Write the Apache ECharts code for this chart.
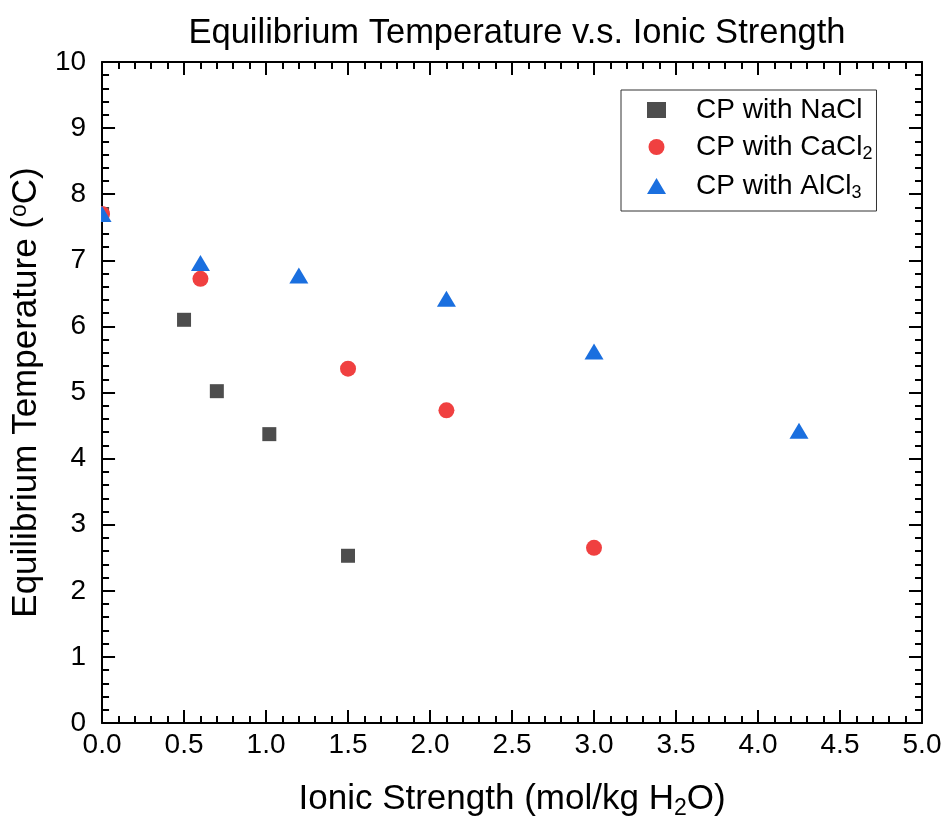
<!DOCTYPE html>
<html>
<head>
<meta charset="utf-8">
<script src="https://cdn.jsdelivr.net/npm/echarts@6/dist/echarts.min.js"></script>
<style>html,body{margin:0;padding:0;background:#fff}#c{width:946px;height:825px}</style>
</head>
<body>
<div id="c"></div>
<script>
const naclX = [0, 0.5, 0.7, 1.02, 1.5];
const naclY = [7.7, 6.1, 5.02, 4.37, 2.53];
const caclX = [0, 0.6, 1.5, 2.1, 3.0];
const caclY = [7.7, 6.72, 5.36, 4.73, 2.65];
const alclX = [0, 0.6, 1.2, 2.1, 3.0, 4.25];
const alclY = [7.7, 6.96, 6.77, 6.42, 5.62, 4.42];
const seriesNames = ['CP with NaCl', 'CP with CaCl2', 'CP with AlCl3'];
const xTicks = ['0.0','0.5','1.0','1.5','2.0','2.5','3.0','3.5','4.0','4.5','5.0'];
const yTicks = ['0','1','2','3','4','5','6','7','8','9','10'];

const FONT = '"Liberation Sans", Arial, sans-serif';
const zip = (xs, ys) => xs.map((x, i) => [x, ys[i]]);

const legendRich = {
  a: {fontSize: 28, fontFamily: FONT, color: '#000'},
  sub: {fontSize: 18, fontFamily: FONT, color: '#000', padding: [14, 0, 0, 0]}
};
const legendFmt = {
  'CP with NaCl': '{a|CP with NaCl}',
  'CP with CaCl2': '{a|CP with CaCl}{sub|2}',
  'CP with AlCl3': '{a|CP with AlCl}{sub|3}'
};

const axisCommon = {
  axisLine: {show: true, onZero: false, lineStyle: {color: '#000', width: 2}},
  axisTick: {show: true, inside: true, length: 13, lineStyle: {color: '#000', width: 2}},
  minorTick: {show: true, splitNumber: 5, length: 7, lineStyle: {color: '#000', width: 2}},
  splitLine: {show: false}
};

const chart = echarts.init(document.getElementById('c'), null, {renderer: 'canvas'});
chart.setOption({
  backgroundColor: '#fff',
  animation: false,
  title: {
    text: 'Equilibrium Temperature v.s. Ionic Strength',
    left: 512, top: 11, textAlign: 'center',
    textStyle: {fontFamily: FONT, fontSize: 34.5, fontWeight: 'normal', color: '#000'}
  },
  grid: {left: 100, right: 24, top: 62, bottom: 97},
  legend: {
    orient: 'vertical',
    left: 621, top: 90,
    padding: [6, 4, 9, 26],
    itemGap: 9,
    itemWidth: 19, itemHeight: 16,
    borderColor: '#333', borderWidth: 1,
    data: seriesNames,
    formatter: n => legendFmt[n],
    textStyle: {rich: legendRich, padding: [0, 0, 0, 25]}
  },
  xAxis: [
    Object.assign({
      type: 'value', position: 'bottom', min: 0, max: 5, interval: 0.5,
      axisLabel: {fontFamily: FONT, fontSize: 28, color: '#000', margin: 8,
        formatter: v => xTicks[Math.round(v / 0.5)]},
      name: '{a|Ionic Strength (mol/kg H}{sub|2}{a|O)}',
      nameLocation: 'middle', nameGap: 56,
      nameTextStyle: {rich: {
        a: {fontSize: 35, fontFamily: FONT, color: '#000'},
        sub: {fontSize: 23, fontFamily: FONT, color: '#000', padding: [18, 0, 0, 0]}
      }}
    }, axisCommon),
    Object.assign({
      type: 'value', position: 'top', min: 0, max: 5, interval: 0.5,
      axisLabel: {show: false}
    }, axisCommon)
  ],
  yAxis: [
    Object.assign({
      type: 'value', position: 'left', min: 0, max: 10, interval: 1,
      axisLabel: {fontFamily: FONT, fontSize: 28, color: '#000', margin: 16,
        formatter: v => yTicks[Math.round(v)]},
      name: '{a|Equilibrium Temperature (}{sup|o}{a|C)}',
      nameLocation: 'middle', nameGap: 50, nameRotate: 90,
      nameTextStyle: {rich: {
        a: {fontSize: 35, fontFamily: FONT, color: '#000'},
        sup: {fontSize: 23, fontFamily: FONT, color: '#000', padding: [0, 0, 14, 0]}
      }}
    }, axisCommon),
    Object.assign({
      type: 'value', position: 'right', min: 0, max: 10, interval: 1,
      axisLabel: {show: false}
    }, axisCommon)
  ],
  series: [
    {name: seriesNames[0], type: 'scatter', symbol: 'rect', symbolSize: 14,
      itemStyle: {color: '#4d4d4d', opacity: 1}, data: zip(naclX, naclY)},
    {name: seriesNames[1], type: 'scatter', symbol: 'circle', symbolSize: 16,
      itemStyle: {color: '#f04040', opacity: 1}, data: zip(caclX, caclY)},
    {name: seriesNames[2], type: 'scatter', symbol: 'triangle', symbolSize: [19, 16],
      itemStyle: {color: '#1a6fdf', opacity: 1}, data: zip(alclX, alclY)}
  ]
});

// mask the part of markers that falls outside the plotting area (left of y axis)
const gridRect = chart.getModel().getComponent('grid').coordinateSystem.getRect();
chart.setOption({
  graphic: [{
    type: 'rect', z: 100,
    shape: {x: gridRect.x - 13, y: gridRect.y + 120, width: 12, height: gridRect.height - 240},
    style: {fill: '#fff'}
  }]
});
</script>
</body>
</html>
